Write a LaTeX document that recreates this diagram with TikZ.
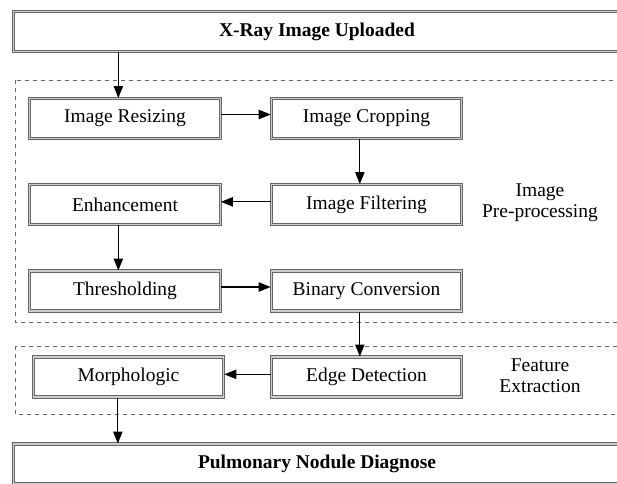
\documentclass[tikz,border=0pt]{standalone}
\usepackage{fontspec}
\setmainfont{Liberation Serif}
\usetikzlibrary{arrows.meta}
\tikzset{
  stage/.style={draw=black!60, double=black!20, double distance=0.8pt, line width=0.75pt, align=center, inner sep=2pt, minimum width=143pt, minimum height=30pt, font=\fontsize{14.6}{16.5}\selectfont},
  banner/.style={stage, minimum width=455pt, minimum height=30pt, font=\fontsize{14.6}{16.5}\selectfont\bfseries},
  group/.style={draw=black!60, dashed, line width=0.6pt},
  arrow/.style={-{Triangle[length=9pt,width=7pt]}, line width=0.9pt}
}

\begin{document}
\begin{tikzpicture}[x=0.75pt, y=-0.75pt, lbl/.style={align=center, font=\fontsize{14.6}{16}\selectfont}]
\useasboundingbox (0,0) rectangle (617,483);
% pipeline groups
\draw[group] (15,80) rectangle (640,322);
\draw[group] (15,346) rectangle (640,414);
\node[banner] (upload) at (317,31.5) {X-Ray Image Uploaded};
\node[stage] (resize) at (125,118.5) {Image Resizing};
\node[stage] (crop) at (366.5,118.5) {Image Cropping};
\node[stage] (enhance) at (125,204.5) {Enhancement};
\node[stage] (filter) at (366.5,204.5) {Image Filtering};
\node[stage] (thresh) at (125,291) {Thresholding};
\node[stage] (binary) at (366.5,291) {Binary Conversion};
\node[stage] (morph) at (128.5,377) {Morphologic};
\node[stage] (edge) at (366.5,377) {Edge Detection};
\node[banner] (diagnose) at (317,464) {Pulmonary Nodule Diagnose};
\node[lbl] (prep) at (540,203) {Image\\Pre-processing};
\node[lbl] (feat) at (540,376) {Feature\\Extraction};
\draw[arrow] ([xshift=-5pt]resize.north |- upload.south) -- ([xshift=-5pt]resize.north);
\draw[arrow] ([yshift=3pt]resize.east) -- ([yshift=3pt]crop.west);
\draw[arrow] ([xshift=-5pt]crop.south) -- ([xshift=-5pt]filter.north);
\draw[arrow] ([yshift=2pt]filter.west) -- ([yshift=2pt]enhance.east);
\draw[arrow] ([xshift=-5pt]enhance.south) -- ([xshift=-5pt]thresh.north);
\draw[arrow] ([yshift=3pt]thresh.east) -- ([yshift=3pt]binary.west);
\draw[arrow] ([xshift=-5pt]binary.south) -- ([xshift=-5pt]edge.north);
\draw[arrow] ([yshift=2pt]edge.west) -- ([yshift=2pt]morph.east);
\draw[arrow] ([xshift=-8pt]morph.south) -- ([xshift=-8pt]morph.south |- diagnose.north);
\end{tikzpicture}
\end{document}
